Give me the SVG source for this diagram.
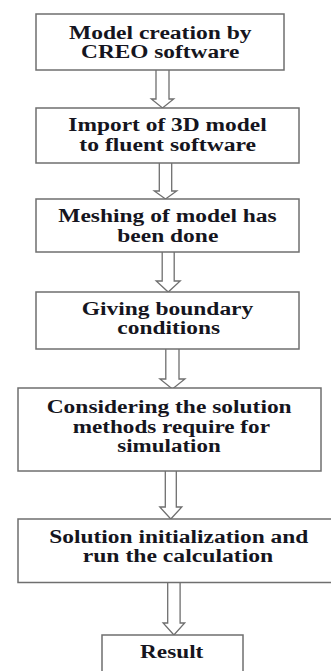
<svg xmlns="http://www.w3.org/2000/svg" width="331" height="671" viewBox="0 0 331 671">
  <style>
    .box { fill: #ffffff; stroke: #6f6f6f; stroke-width: 1.5; }
    .arrow { fill: #ffffff; stroke: #6f6f6f; stroke-width: 1.3; stroke-linejoin: miter; }
    .label { font-family: "Liberation Serif", "Times New Roman", serif; font-weight: bold; font-size: 18px; fill: #151520; text-anchor: middle; }
  </style>
  <rect width="331" height="671" fill="#ffffff"/>

  <!-- hollow block arrows between the steps -->
  <g id="connectors">
    <path class="arrow" d="M156,70 V99 H151.3 L162.5,108 L173.7,99 H169 V70"/>
    <path class="arrow" d="M159.3,163 V191 H154.3 L165.5,199 L176.7,191 H171.7 V163"/>
    <path class="arrow" d="M162.2,252 V281 H156.2 L168.2,292 L180.2,281 H174.2 V252"/>
    <path class="arrow" d="M165.8,349 V379 H159.9 L172.4,389 L184.9,379 H179 V349"/>
    <path class="arrow" d="M165.3,471 V507 H159.8 L170.8,519 L181.8,507 H176.3 V471"/>
    <path class="arrow" d="M167.7,582.5 V623 H163.1 L173.9,635 L184.7,623 H180.1 V582.5"/>
  </g>

  <g id="step-model-creation">
    <rect class="box" x="36" y="14" width="248" height="56"/>
    <text class="label" x="160.3" y="38.5" textLength="182.7" lengthAdjust="spacingAndGlyphs">Model creation by</text>
    <text class="label" x="160.2" y="58.3" textLength="158.3" lengthAdjust="spacingAndGlyphs">CREO software</text>
  </g>

  <g id="step-import">
    <rect class="box" x="36" y="108" width="263" height="55"/>
    <text class="label" x="167.5" y="131" textLength="198.4" lengthAdjust="spacingAndGlyphs">Import of 3D model</text>
    <text class="label" x="167.7" y="151" textLength="176.7" lengthAdjust="spacingAndGlyphs">to fluent software</text>
  </g>

  <g id="step-meshing">
    <rect class="box" x="36" y="199" width="263" height="53"/>
    <text class="label" x="167.5" y="221.7" textLength="218.4" lengthAdjust="spacingAndGlyphs">Meshing of model has</text>
    <text class="label" x="167.8" y="241.7" textLength="101" lengthAdjust="spacingAndGlyphs">been done</text>
  </g>

  <g id="step-boundary">
    <rect class="box" x="36" y="292" width="263" height="57"/>
    <text class="label" x="167.5" y="315" textLength="171.6" lengthAdjust="spacingAndGlyphs">Giving boundary</text>
    <text class="label" x="168.7" y="334.3" textLength="102.7" lengthAdjust="spacingAndGlyphs">conditions</text>
  </g>

  <g id="step-solution-methods">
    <rect class="box" x="18" y="388" width="303" height="83"/>
    <text class="label" x="169.2" y="413.3" textLength="245" lengthAdjust="spacingAndGlyphs">Considering the solution</text>
    <text class="label" x="171.3" y="433.3" textLength="197.3" lengthAdjust="spacingAndGlyphs">methods require for</text>
    <text class="label" x="169" y="451.7" textLength="103.4" lengthAdjust="spacingAndGlyphs">simulation</text>
  </g>

  <g id="step-initialization">
    <rect class="box" x="18" y="519" width="322" height="63.5"/>
    <text class="label" x="178.8" y="543.3" textLength="259" lengthAdjust="spacingAndGlyphs">Solution initialization and</text>
    <text class="label" x="178" y="562.3" textLength="190.6" lengthAdjust="spacingAndGlyphs">run the calculation</text>
  </g>

  <g id="step-result">
    <rect class="box" x="102" y="635" width="141" height="50"/>
    <text class="label" x="171.7" y="658" textLength="63.3" lengthAdjust="spacingAndGlyphs">Result</text>
  </g>
</svg>
